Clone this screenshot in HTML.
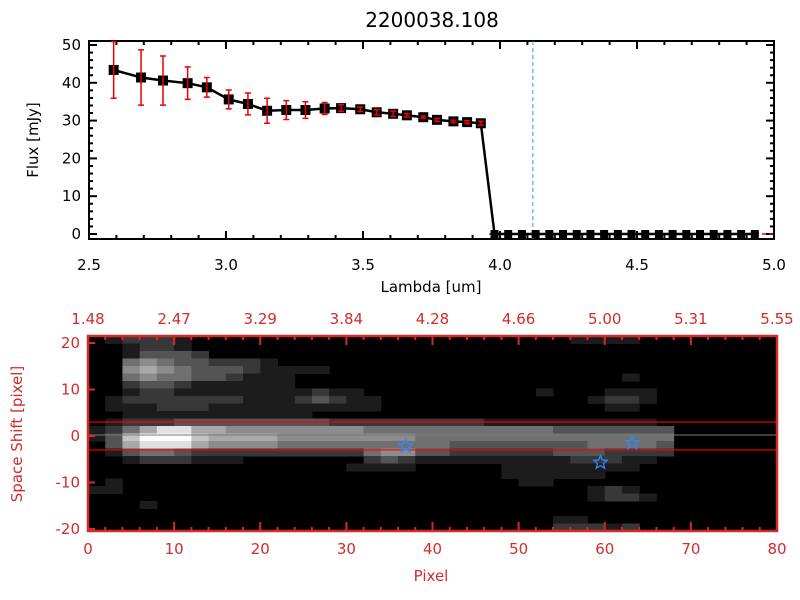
<!DOCTYPE html>
<html><head><meta charset="utf-8"><style>
body{margin:0;background:#fff;}
svg{display:block;font-family:"DejaVu Sans","Liberation Sans",sans-serif;}
</style></head><body>
<svg id="svg" width="800" height="600" viewBox="0 0 800 600">
<rect width="800" height="600" fill="#fff"/>
<text x="432" y="27" text-anchor="middle" font-size="20">2200038.108</text>
<g id="topg"></g>
<g id="botg"></g>
</svg>
<script>
const NS="http://www.w3.org/2000/svg";
const lambdas=[2.59,2.69,2.77,2.86,2.93,3.01,3.08,3.15,3.22,3.29,3.36,3.42,3.49,3.55,3.61,3.66,3.72,3.77,3.83,3.88,3.93,3.98,4.03,4.08,4.13,4.18,4.23,4.28,4.33,4.38,4.43,4.48,4.53,4.58,4.63,4.68,4.73,4.78,4.83,4.88,4.93];
const fluxes=[43.4,41.4,40.6,39.9,38.8,35.6,34.4,32.6,32.8,32.8,33.2,33.3,33.0,32.2,31.8,31.4,30.9,30.2,29.8,29.6,29.3,0,0,0,0,0,0,0,0,0,0,0,0,0,0,0,0,0,0,0,0];
const errors=[7.5,7.3,6.5,4.3,2.6,2.5,2.9,3.3,2.5,2.2,1.6,0.9,0.6,0.7,0.7,0.4,0.3,0.4,0.3,0.4,0.5,0,0,0,0,0,0,0,0,0,0,0,0,0,0,0,0,0,0,0,0];
const xTicks=[2.5,3.0,3.5,4.0,4.5,5.0];
const yTicks=[0,10,20,30,40,50];
const markerLambda=4.12;
const pixTicks=[0,10,20,30,40,50,60,70,80];
const topLabels=["1.48","2.47","3.29","3.84","4.28","4.66","5.00","5.31","5.55"];
const shiftTicks=[20,10,0,-10,-20];
const starsX=[36.9,59.5,63.2];
const starsY=[-2.2,-5.7,-1.5];
const heat=[
"0122210000000000000000000000111100",
"0012210000000000000000000000000000",
"0013332000000000000000000000000000",
"0045433222100000000000000000000000",
"0056543332111100000000000000000000",
"0045443321110000000000000000000100",
"0023321111110000000000000000000000",
"0012211111111211000000000010001110",
"0122222221112321100000000000012210",
"0111222111111111100000000000001100",
"0011111111111000000000000000000000",
"0122233333333322222222211111111110",
"1246886655555555444444444443333333",
"1379997666655555555444444444444444",
"0368886555544444444443333333344443",
"0134432222222222455332222223332222",
"0012221110000000232111111111222110",
"0000000000000001111000001111111100",
"0000000000000000000000001111110000",
"0100000000000000000000000110000000",
"1100000000000000000000000000012100",
"0000000000000000000000000000012210",
"0001000000000000000000000000000000",
"0000000000000000000000000000000000",
"0000000000000000000000000001100000",
"0000000000000000000000000002221200"];

function mk(parent,tag,attrs,text){const e=document.createElementNS(NS,tag);for(const k in attrs)e.setAttribute(k,attrs[k]);if(text!==undefined)e.textContent=text;parent.appendChild(e);return e;}
const topG=document.getElementById('topg'), botG=document.getElementById('botg');
const X0=89,X1=774,YT=41,YB=239;
const xs=v=>X0+(v-2.5)/2.5*(X1-X0);
const ys=v=>234-v*3.78;
let f=mk(topG,'rect',{x:X0,y:YT,width:X1-X0,height:YB-YT,fill:'none',stroke:'#000','stroke-width':2});


for(const t of xTicks){const x=xs(t);
 mk(topG,'line',{x1:x,y1:YB,x2:x,y2:YB-8,stroke:'#000','stroke-width':2});
 mk(topG,'line',{x1:x,y1:YT,x2:x,y2:YT+8,stroke:'#000','stroke-width':2});
 const l=mk(topG,'text',{x:x,y:270,'text-anchor':'middle','font-size':15},t.toFixed(1));
 
 
 if(t<5){for(let k=1;k<5;k++){const xm=xs(t+k*0.1);mk(topG,'line',{x1:xm,y1:YB,x2:xm,y2:YB-4,stroke:'#000','stroke-width':2});mk(topG,'line',{x1:xm,y1:YT,x2:xm,y2:YT+4,stroke:'#000','stroke-width':2});}}
}
for(const t of yTicks){const y=ys(t);
 mk(topG,'line',{x1:X0,y1:y,x2:X0+8,y2:y,stroke:'#000','stroke-width':2});
 mk(topG,'line',{x1:X1,y1:y,x2:X1-8,y2:y,stroke:'#000','stroke-width':2});
 const l=mk(topG,'text',{x:X0-8,y:y+5,'text-anchor':'end','font-size':15},String(t));
 
 
 if(t<50){for(let k=1;k<5;k++){const ym=ys(t+k*2);mk(topG,'line',{x1:X0,y1:ym,x2:X0+4,y2:ym,stroke:'#000','stroke-width':2});mk(topG,'line',{x1:X1,y1:ym,x2:X1-4,y2:ym,stroke:'#000','stroke-width':2});}}
}
let xl=mk(topG,'text',{x:431,y:292,'text-anchor':'middle','font-size':15},'Lambda [um]');


let yl=mk(topG,'text',{x:38,y:140,'text-anchor':'middle','font-size':15,transform:'rotate(-90 38 140)'},'Flux [mJy]');


let vl=mk(topG,'line',{x1:xs(markerLambda),y1:YT,x2:xs(markerLambda),y2:YB,stroke:'#3399ff','stroke-width':1,'stroke-dasharray':'4,3'});


let hl=mk(topG,'line',{x1:xs(3.96),y1:ys(0),x2:X1,y2:ys(0),stroke:'#e00','stroke-width':1.5,'stroke-dasharray':'4,3'});


let pts=lambdas.map((l,i)=>xs(l)+','+ys(fluxes[i])).join(' ');
let pl=mk(topG,'polyline',{points:pts,fill:'none',stroke:'#000','stroke-width':2.5});


lambdas.forEach((l,i)=>{const x=xs(l),y=ys(fluxes[i]);const s=fluxes[i]>0?5:4;
 const m=mk(topG,'rect',{x:x-s,y:y-s,width:2*s,height:2*s,fill:'#000'});
 
 
 if(errors[i]>0){const y1=Math.max(YT,ys(fluxes[i]+errors[i])),y2=ys(fluxes[i]-errors[i]);
  const g=mk(topG,'path',{d:`M${x},${y1}V${y2}M${x-3},${y1}H${x+3}M${x-3},${y2}H${x+3}`,stroke:'#e00','stroke-width':1.5,fill:'none'});
  
  }
});
const BX0=88,BX1=777,BY0=336,BY1=531,RED='#d42a2a';
const px=v=>BX0+v*(BX1-BX0)/80;
const sy=v=>436-v*4.65;
const bg=mk(botG,'rect',{x:BX0,y:BY0,width:BX1-BX0,height:BY1-BY0,fill:'#000'});


const cw=(px(68)-px(0))/34, ch=(BY1-BY0)/heat.length;
heat.forEach((row,r)=>{for(let c=0;c<row.length;c++){const v=+row[c];if(!v)continue;const g=Math.round(v*28);
 const cell=mk(botG,'rect',{x:px(0)+c*cw,y:BY0+r*ch,width:cw+0.5,height:ch+0.5,fill:`rgb(${g},${g},${g})`});
 
 }});
let r1=mk(botG,'line',{x1:BX0,y1:sy(3),x2:BX1,y2:sy(3),stroke:'#f00','stroke-width':1.2});


let r2=mk(botG,'line',{x1:BX0,y1:sy(-3),x2:BX1,y2:sy(-3),stroke:'#f00','stroke-width':1.2});


let cl=mk(botG,'line',{x1:BX0,y1:sy(0)-1,x2:BX1,y2:sy(0)-1,stroke:'#777','stroke-width':1});


function star(cx,cy,R){let d='';for(let k=0;k<10;k++){const a=-Math.PI/2+k*Math.PI/5,rr=k%2?R*0.45:R;d+=(k?'L':'M')+(cx+rr*Math.cos(a)).toFixed(1)+','+(cy+rr*Math.sin(a)).toFixed(1);}return d+'Z';}
starsX.forEach((v,i)=>{const s=mk(botG,'path',{d:star(px(v),sy(starsY[i]),7),fill:'none',stroke:'#2a8cff','stroke-width':1.3});
 
 });
const bf=mk(botG,'rect',{x:BX0,y:BY0,width:BX1-BX0,height:BY1-BY0,fill:'none',stroke:RED,'stroke-width':2.5});


pixTicks.forEach((t,i)=>{const x=px(t);
 mk(botG,'line',{x1:x,y1:BY1,x2:x,y2:BY1-9,stroke:RED,'stroke-width':2});
 mk(botG,'line',{x1:x,y1:BY0,x2:x,y2:BY0+9,stroke:RED,'stroke-width':2});
 const a=mk(botG,'text',{x:x,y:554,'text-anchor':'middle','font-size':15,fill:RED},String(t));
 
 
 const b=mk(botG,'text',{x:x,y:324,'text-anchor':'middle','font-size':15,fill:RED},topLabels[i]);
 
 
 if(t<80){for(let k=1;k<5;k++){const xm=px(t+k*2);mk(botG,'line',{x1:xm,y1:BY1,x2:xm,y2:BY1-4,stroke:RED,'stroke-width':2});mk(botG,'line',{x1:xm,y1:BY0,x2:xm,y2:BY0+4,stroke:RED,'stroke-width':2});}}
});
shiftTicks.forEach(t=>{const y=sy(t);
 mk(botG,'line',{x1:BX0,y1:y,x2:BX0+7,y2:y,stroke:RED,'stroke-width':2});
 const l=mk(botG,'text',{x:BX0-8,y:y+5,'text-anchor':'end','font-size':15,fill:RED},String(t));
 
 });
let pxl=mk(botG,'text',{x:431,y:581,'text-anchor':'middle','font-size':15,fill:RED},'Pixel');


let ssl=mk(botG,'text',{x:22,y:434,'text-anchor':'middle','font-size':15,fill:RED,transform:'rotate(-90 22 434)'},'Space Shift [pixel]');


</script>
</body></html>
